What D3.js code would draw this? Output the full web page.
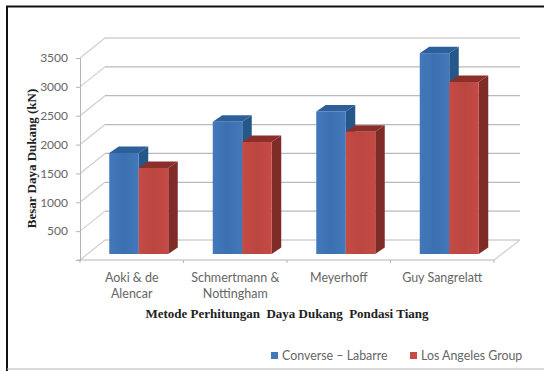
<!DOCTYPE html>
<html>
<head>
<meta charset="utf-8">
<script src="https://cdn.jsdelivr.net/npm/d3@7/dist/d3.min.js"></script>
<style>
  html, body { margin: 0; padding: 0; background: #fff; }
  svg { display: block; }
</style>
</head>
<body>
<svg id="chart" width="544" height="371"></svg>
<script>
// Pile bearing capacity by calculation method
const categories = ["Aoki & de Alencar", "Schmertmann & Nottingham", "Meyerhoff", "Guy Sangrelatt"];
const categoryLines = [["Aoki & de", "Alencar"], ["Schmertmann &", "Nottingham"], ["Meyerhoff"], ["Guy Sangrelatt"]];
const seriesNames = ["Converse – Labarre", "Los Angeles Group"];
const converseLabarre = [1750, 2290, 2470, 3480];
const losAngelesGroup = [1490, 1940, 2120, 2980];
const yTicks = [500, 1000, 1500, 2000, 2500, 3000, 3500];
const allTicks = [0].concat(yTicks);
const yTitle = "Besar Daya Dukang (kN)";
const xTitle = "Metode Perhitungan  Daya Dukang  Pondasi Tiang";

const seriesValues = [converseLabarre, losAngelesGroup];
const faceColors = [
  { front: "#4279bb", frontDark: "#3c70b0", side: "#265789", top: "#2d5f9b" },
  { front: "#c54b45", frontDark: "#bb4640", side: "#7f2b28", top: "#8c2f2b" }
];

const svg = d3.select("#chart");

// Outer frame: heavy top and left rules, light bottom rule
svg.append("line").attr("x1", 6).attr("x2", 544).attr("y1", 6.5).attr("y2", 6.5).attr("stroke", "#111").attr("stroke-width", 2);
svg.append("line").attr("x1", 7).attr("x2", 7).attr("y1", 6).attr("y2", 371).attr("stroke", "#111").attr("stroke-width", 2);
svg.append("line").attr("x1", 7).attr("x2", 544).attr("y1", 369).attr("y2", 369).attr("stroke", "#b5b5b5").attr("stroke-width", 1);

// Projection of the 3D box: front plane, back wall offset
const plot = { left: 80, right: 494, floor: 260, top: 58 };
const wall = { dx: 25, dy: -20 };
const barDepth = { dx: 9.5, dy: -6.5 };    // extrusion of each bar
const barInset = { dx: 7, dy: -6 };        // bar front face relative to the front plane

const y = d3.scaleLinear().domain([0, 3500]).range([plot.floor, plot.top]);
const x = d3.scaleBand().domain(categories).range([plot.left, plot.right]).paddingInner(0.43).paddingOuter(0.215);
const xSeries = d3.scaleBand().domain(seriesNames).range([0, x.bandwidth()]);
const bandEdges = d3.range(categories.length + 1).map(i => plot.left + i * (plot.right - plot.left) / categories.length);

// Wall gridlines and the diagonals running along the side wall
const grid = svg.append("g").attr("fill", "none").attr("stroke", "#b9b9b9").attr("stroke-width", 1.2);
allTicks.forEach(t => {
  grid.append("line")
    .attr("x1", plot.left + wall.dx).attr("x2", plot.right + wall.dx + 1)
    .attr("y1", y(t) + wall.dy).attr("y2", y(t) + wall.dy);
  grid.append("line")
    .attr("x1", plot.left).attr("x2", plot.left + wall.dx)
    .attr("y1", y(t)).attr("y2", y(t) + wall.dy)
    .attr("stroke", "#cfcfcf");
});
grid.append("line")
  .attr("x1", plot.right).attr("x2", plot.right + wall.dx + 1)
  .attr("y1", plot.floor).attr("y2", plot.floor + wall.dy)
  .attr("stroke", "#cfcfcf");

// Value axis on the front-left edge
const yAxis = svg.append("g")
  .attr("transform", `translate(${plot.left},0)`)
  .call(d3.axisLeft(y).tickValues(yTicks).tickSize(4).tickPadding(8).tickFormat(d3.format("d")));
yAxis.selectAll("path, line").attr("stroke", "#b5b5b5");
yAxis.selectAll("text").attr("font-family", "Lato, 'Open Sans', sans-serif").attr("font-size", 12).attr("fill", "#666");

// Category axis with ticks at the band edges and wrapped labels
const base = svg.append("g").attr("stroke", "#b5b5b5");
base.append("line").attr("x1", plot.left - 3).attr("x2", plot.right).attr("y1", plot.floor).attr("y2", plot.floor);
base.selectAll("line.tick").data(bandEdges).join("line").attr("class", "tick")
  .attr("x1", d => d).attr("x2", d => d).attr("y1", plot.floor).attr("y2", plot.floor + 3);

const xLabels = svg.append("g")
  .attr("font-family", "Lato, 'Open Sans', sans-serif").attr("font-size", 12.5).attr("fill", "#666").attr("text-anchor", "middle");
categories.forEach((c, i) => {
  const cx = x(c) + x.bandwidth() / 2;
  categoryLines[i].forEach((line, j) => {
    xLabels.append("text").attr("x", cx).attr("y", 281.5 + j * 16).text(line);
  });
});

// Bars are drawn back to front so each red bar overlaps the blue extrusion
const bars = svg.append("g");
const floorY = plot.floor + barInset.dy;
const poly = pts => pts.map(p => p.join(",")).join(" ");

const gradient = svg.append("defs").selectAll("linearGradient").data(faceColors).join("linearGradient")
  .attr("id", (d, i) => `face${i}`).attr("x1", 0).attr("x2", 1).attr("y1", 0).attr("y2", 0);
gradient.append("stop").attr("offset", "0").attr("stop-color", d => d.front);
gradient.append("stop").attr("offset", "0.5").attr("stop-color", d => d.frontDark);
gradient.append("stop").attr("offset", "1").attr("stop-color", d => d.front);

categories.forEach((c, i) => {
  seriesNames.forEach((s, k) => {
    const v = seriesValues[k][i];
    const colors = faceColors[k];
    const x0 = x(c) + xSeries(s) + barInset.dx;
    const x1 = x0 + xSeries.bandwidth();
    const top = y(v) + barInset.dy;
    const { dx, dy } = barDepth;
    bars.append("polygon").attr("fill", colors.side)
      .attr("points", poly([[x1, top], [x1 + dx, top + dy], [x1 + dx, floorY + dy], [x1, floorY]]));
    bars.append("polygon").attr("fill", colors.top)
      .attr("points", poly([[x0, top], [x0 + dx, top + dy], [x1 + dx, top + dy], [x1, top]]));
    bars.append("rect").attr("fill", `url(#face${k})`)
      .attr("x", x0).attr("y", top).attr("width", x1 - x0).attr("height", floorY - top);
  });
});

// Axis titles
svg.append("text")
  .attr("transform", "translate(36,158.5) rotate(-90)")
  .attr("text-anchor", "middle")
  .attr("font-family", "'Liberation Serif', serif").attr("font-weight", "bold").attr("font-size", 13).attr("fill", "#222")
  .text(yTitle);
svg.append("text")
  .attr("x", 287).attr("y", 318)
  .attr("text-anchor", "middle").style("white-space", "pre")
  .attr("font-family", "'Liberation Serif', serif").attr("font-weight", "bold").attr("font-size", 13).attr("fill", "#222")
  .text(xTitle);

// Legend along the bottom right
const legendPos = [271, 410];
const legend = svg.append("g");
seriesNames.forEach((s, k) => {
  legend.append("rect").attr("x", legendPos[k]).attr("y", 352).attr("width", 7).attr("height", 7).attr("fill", faceColors[k].front);
  legend.append("text").attr("x", legendPos[k] + 11).attr("y", 360)
    .attr("font-family", "Lato, 'Open Sans', sans-serif").attr("font-size", 12.4).attr("fill", "#666").text(s);
});
</script>
</body>
</html>
